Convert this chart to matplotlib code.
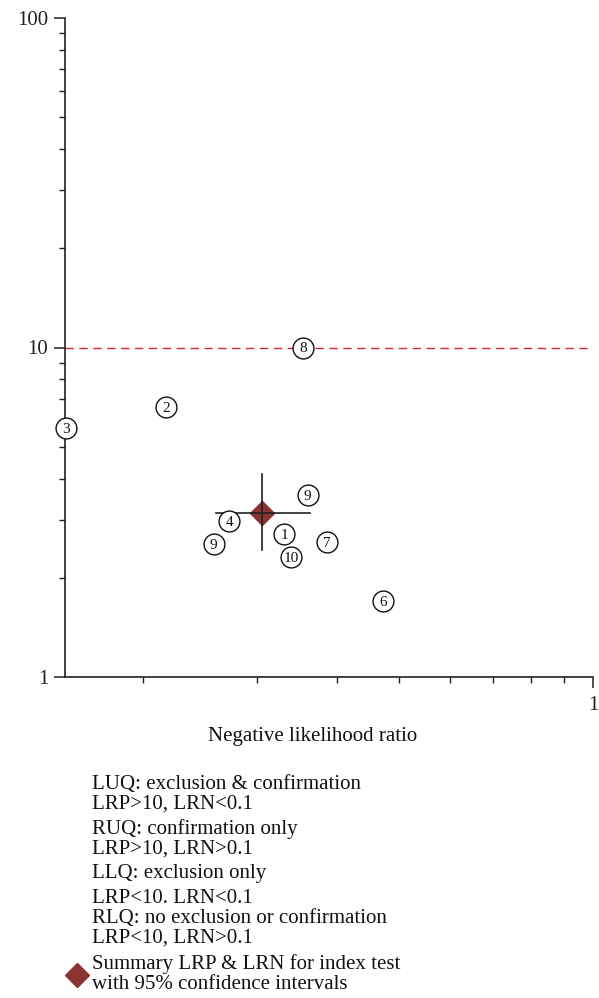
import matplotlib
matplotlib.use("Agg")
import matplotlib.pyplot as plt
from matplotlib.ticker import FixedLocator, NullFormatter, FixedFormatter

plt.rcParams['font.family'] = ['Liberation Serif', 'DejaVu Serif']

# Study estimates (negative LR, positive LR)
study_labels = ["8", "2", "3", "9", "4", "1", "9", "7", "10", "6"]
lrn = [0.354, 0.217, 0.1515, 0.360, 0.272, 0.331, 0.257, 0.386, 0.339, 0.471]
lrp = [10.0, 6.60, 5.70, 3.56, 2.985, 2.72, 2.525, 2.56, 2.316, 1.706]

# Summary estimate with 95% CI
sum_lrn, sum_lrn_lo, sum_lrn_hi = 0.306, 0.259, 0.363
sum_lrp, sum_lrp_lo, sum_lrp_hi = 3.15, 2.43, 4.13

legend_lines = [
    "LUQ: exclusion & confirmation",
    "LRP>10, LRN<0.1",
    "RUQ: confirmation only",
    "LRP>10, LRN>0.1",
    "LLQ: exclusion only",
    "LRP<10. LRN<0.1",
    "RLQ: no exclusion or confirmation",
    "LRP<10, LRN>0.1",
]
summary_legend = ["Summary LRP & LRN for index test", "with 95% confidence intervals"]

W, H = 599, 998
FS = 15
fig = plt.figure(figsize=(W / 100, H / 100), dpi=100)
ax = fig.add_axes([65 / W, 1 - 677 / H, (593 - 65) / W, (677 - 18) / H])
ax.set_xscale('log')
ax.set_yscale('log')
ax.set_xlim(0.1510, 1.0)
ax.set_ylim(1, 100)

for s in ['top', 'right']:
    ax.spines[s].set_visible(False)
for s in ['left', 'bottom']:
    ax.spines[s].set_linewidth(1.2)
    ax.spines[s].set_color('#222222')

# Ticks
ax.yaxis.set_major_locator(FixedLocator([1, 10, 100]))
ax.yaxis.set_major_formatter(FixedFormatter(["1", "10", "100"]))
ax.yaxis.set_minor_locator(FixedLocator([2, 3, 4, 5, 6, 7, 8, 9, 20, 30, 40, 50, 60, 70, 80, 90]))
ax.yaxis.set_minor_formatter(NullFormatter())
ax.xaxis.set_major_locator(FixedLocator([1.0]))
ax.xaxis.set_major_formatter(FixedFormatter(["1"]))
ax.xaxis.set_minor_locator(FixedLocator([0.2, 0.3, 0.4, 0.5, 0.6, 0.7, 0.8, 0.9]))
ax.xaxis.set_minor_formatter(NullFormatter())
ax.tick_params(axis='y', which='major', length=8, width=1.1, labelsize=FS, pad=4, colors='#222222')
ax.tick_params(axis='y', which='minor', length=4, width=1.0, colors='#222222')
ax.tick_params(axis='x', which='major', length=8, width=1.1, labelsize=FS, pad=6, colors='#222222')
ax.tick_params(axis='x', which='minor', length=4, width=1.0, colors='#222222')

# Red dashed reference line at LRP = 10
ax.axhline(10, color='#d7263d', lw=1.0, dashes=(6, 4), zorder=1)

# Summary point and CIs
ax.plot([sum_lrn], [sum_lrp], marker='D', ms=12, color='#8b3333', ls='none', zorder=3)
ax.plot([sum_lrn_lo, sum_lrn_hi], [sum_lrp, sum_lrp], color='#222222', lw=1.2, zorder=4)
ax.plot([sum_lrn, sum_lrn], [sum_lrp_lo, sum_lrp_hi], color='#222222', lw=1.2, zorder=4)

# Study points
ax.scatter(lrn, lrp, s=225, facecolor='white', edgecolor='#111111', linewidth=1.0,
           zorder=5, clip_on=False)
for lab, x, y in zip(study_labels, lrn, lrp):
    ax.text(x, y, lab, ha='center', va='center_baseline', fontsize=11, color='#111111',
            zorder=6, clip_on=False)

fig.text(313 / W, 1 - 737 / H, "Negative likelihood ratio", ha='center', va='center',
         fontsize=FS, color='#111111')

ys = [782, 802, 827, 847, 871, 896, 916, 936]
for t, y in zip(legend_lines, ys):
    fig.text(92 / W, 1 - y / H, t, ha='left', va='center_baseline', fontsize=FS, color='#111111')
for t, y in zip(summary_legend, [962, 982]):
    fig.text(92 / W, 1 - y / H, t, ha='left', va='center_baseline', fontsize=FS, color='#111111')
fig.lines.append(plt.Line2D([77 / W], [1 - 975 / H], marker='D', ms=12, color='#8b3333',
                            ls='none', transform=fig.transFigure, figure=fig))

fig.savefig("out.png", dpi=100)
